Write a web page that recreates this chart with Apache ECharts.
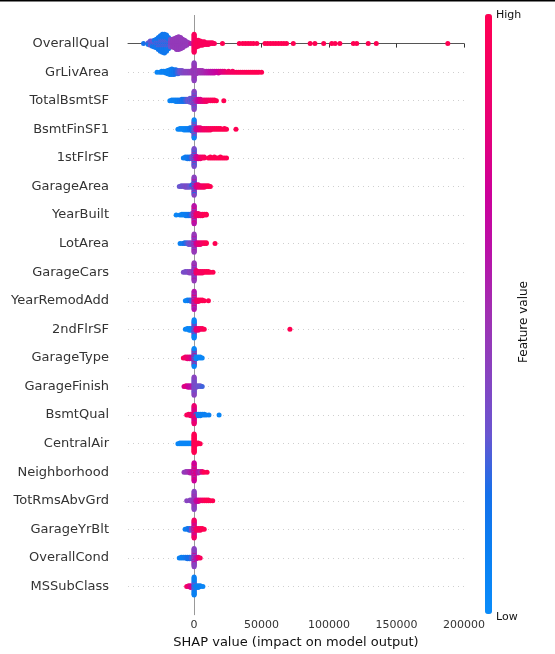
<!DOCTYPE html>
<html>
<head>
<meta charset="utf-8">
<script src="https://cdn.jsdelivr.net/npm/echarts@6/dist/echarts.min.js"></script>
<style>html,body{margin:0;padding:0;background:#fff}#c{width:555px;height:654px}</style>
</head>
<body>
<div id="c"></div>
<script>
// Feature names (top to bottom)
const features = ['OverallQual','GrLivArea','TotalBsmtSF','BsmtFinSF1','1stFlrSF','GarageArea','YearBuilt','LotArea','GarageCars','YearRemodAdd','2ndFlrSF','GarageType','GarageFinish','BsmtQual','CentralAir','Neighborhood','TotRmsAbvGrd','GarageYrBlt','OverallCond','MSSubClass'];
const xTicks = [0, 50000, 100000, 150000, 200000];
const colorLabels = ['High', 'Low'];

// Each entry: [SHAP value, normalized feature value (0 low .. 1 high), dots stacked at that value]
const overallQual = [[-37500,0.2,1],[-34000,0.3,2],[-34000,0.15,1],[-32500,0.3,4],[-32500,0.15,2],[-31000,0.3,4],[-31000,0.15,3],
 [-29500,0.3,4],[-29500,0.15,5],[-28000,0.15,7],[-28000,0.3,4],[-26500,0.15,10],[-26500,0.3,5],[-25000,0.15,13],[-25000,0.3,6],
 [-23500,0.15,16],[-23500,0.3,6],[-22000,0.15,17],[-22000,0.3,6],[-20500,0.15,14],[-20500,0.3,6],[-19000,0.15,9],[-19000,0.3,5],
 [-17500,0.3,6],[-17500,0.45,4],[-16000,0.45,10],[-14500,0.45,12],[-13000,0.45,15],[-11500,0.45,16],[-10000,0.45,14],
 [-8500,0.45,11],[-7000,0.45,8],[-5500,0.45,5],[-4000,0.45,2],[-2500,0.55,1],
 [0,0.95,16],[0,0.8,6],[1500,0.95,9],[3000,0.95,8],[4500,0.95,6],[6000,0.95,5],[7500,0.95,4],[9000,0.95,3],[10500,0.95,3],
 [12000,0.95,2],[13500,0.95,2],[15000,0.95,1],[21000,1,1],
 [33500,1,1],[36000,1,1],[38000,1,1],[40000,1,1],[42000,1,1],[44000,1,1],[46500,1,1],
 [52500,1,1],[54500,1,1],[56500,1,1],[58500,1,1],[60500,1,1],[62500,1,1],[64500,1,1],[66500,1,1],[68500,1,1],[73500,1,1],
 [86000,1,1],[89500,1,1],[96000,1,1],[102000,1,1],[104500,1,1],[108000,1,1],[118000,1,1],[120500,1,1],[129000,1,1],[135000,1,1],[188000,1,1]];
const grLivArea = [[-27500,0.05,1],[-25500,0.05,1],[-24000,0.08,2],[-22500,0.08,2],[-21000,0.1,3],[-19500,0.1,5],[-18000,0.1,7],
 [-16500,0.12,8],[-15000,0.15,7],[-13500,0.2,6],[-12000,0.25,5],[-10500,0.3,4],[-9000,0.35,4],[-7500,0.38,3],[-6000,0.4,3],
 [-4500,0.4,3],[-3000,0.42,3],[-1500,0.45,4],[0,0.42,14],[0,0.5,10],[1500,0.45,5],[3000,0.47,4],[4500,0.5,4],[6000,0.5,4],
 [7500,0.52,3],[9000,0.55,3],[10500,0.57,3],[12000,0.6,3],[13500,0.62,3],[15000,0.65,3],[16500,0.68,2],[18000,0.7,3],
 [19500,0.75,2],[21000,0.78,2],[22500,0.82,2],[24000,0.85,1],[25500,0.88,2],[27000,0.9,1],[28500,0.92,2],[30000,0.93,1],
 [31500,0.95,1],[33000,0.95,1],[34500,0.97,1],[36000,0.97,1],[37500,0.97,1],[39000,0.97,1],[40500,1,1],[42000,1,1],
 [43500,1,1],[45000,1,1],[46500,1,1],[48000,1,1],[50000,1,1]];
const totalBsmtSF = [[-18000,0.05,1],[-16500,0.08,2],[-15000,0.1,2],[-13500,0.1,3],[-12000,0.12,3],[-10500,0.15,3],[-9000,0.18,4],
 [-7500,0.2,4],[-6000,0.25,4],[-4500,0.3,4],[-3000,0.3,5],[-3000,0.15,1],[-1500,0.35,5],[-1500,0.2,2],
 [0,0.4,10],[0,0.25,8],[0,0.55,6],[1500,0.55,4],[3000,0.65,4],[4500,0.75,4],[6000,0.8,3],[7500,0.85,3],[9000,0.9,3],
 [10500,0.9,2],[12000,0.95,2],[13500,0.95,2],[15000,1,2],[16500,1,1],[22000,1,1]];
const bsmtFinSF1 = [[-12000,0.05,1],[-10500,0.05,2],[-9000,0.05,2],[-7500,0.05,3],[-6000,0.08,3],[-4500,0.1,3],[-3000,0.15,4],
 [-1500,0.2,5],[0,0.05,10],[0,0.35,8],[0,0.5,6],[1500,0.65,4],[3000,0.75,4],[4500,0.8,4],[6000,0.85,3],[7500,0.9,3],
 [9000,0.9,3],[10500,0.92,3],[12000,0.95,3],[13500,0.95,2],[15000,0.97,2],[16500,1,2],[18000,1,2],[19500,1,2],[21000,1,1],
 [22500,1,2],[24000,1,1],[31000,1,1]];
const firstFlrSF = [[-8000,0.1,1],[-6500,0.12,2],[-5000,0.15,3],[-3500,0.2,3],[-1500,0.3,4],[0,0.35,10],[0,0.2,8],[0,0.55,6],
 [1500,0.65,4],[3000,0.75,3],[4500,0.85,3],[6000,0.9,2],[7500,0.95,2],[10500,1,1],[12000,1,2],[13500,1,1],[15000,1,2],
 [16500,1,1],[18000,1,1],[19500,1,2],[21000,1,1],[22500,1,1],[24000,1,1]];
const garageArea = [[-11000,0.3,1],[-9500,0.3,2],[-8000,0.32,2],[-6500,0.35,3],[-5000,0.35,3],[-3500,0.3,3],[-1500,0.2,3],[-1500,0.4,1],
 [0,0.4,10],[0,0.2,7],[0,0.6,7],[1500,0.7,4],[3000,0.8,4],[4500,0.85,3],[6000,0.9,3],[7500,0.92,3],[9000,0.95,2],[10500,1,2],[12000,1,1]];
const yearBuilt = [[-13300,0.05,1],[-10500,0.08,1],[-9000,0.1,2],[-7500,0.1,2],[-6000,0.12,3],[-4500,0.15,3],[-3000,0.2,3],
 [-1500,0.3,4],[0,0.6,10],[0,0.8,8],[0,0.4,6],[1500,0.85,4],[3000,0.9,4],[4500,0.92,3],[6000,0.95,3],[7500,1,2],[9000,1,2]];
const lotArea = [[-10400,0.1,1],[-8500,0.15,1],[-7000,0.2,2],[-5500,0.25,2],[-4000,0.3,3],[-2500,0.35,3],[0,0.45,10],[0,0.6,8],[0,0.3,6],
 [1500,0.7,3],[3000,0.8,3],[4500,0.85,3],[6000,0.9,2],[7500,0.95,2],[9000,1,2],[15500,1,1]];
const garageCars = [[-8000,0.35,1],[-6500,0.35,2],[-5000,0.35,2],[-3500,0.4,3],[-2000,0.4,3],[0,0.45,10],[0,0.6,8],[0,0.3,6],
 [1500,0.85,4],[3000,0.9,3],[4500,0.9,3],[6000,0.95,3],[7500,0.95,2],[9000,1,2],[10500,1,2],[12000,1,1],[14000,1,1]];
const yearRemodAdd = [[-6500,0.05,1],[-5000,0.08,2],[-3500,0.15,2],[-2000,0.25,3],[0,0.6,10],[0,0.4,8],[0,0.8,6],
 [1500,0.85,3],[3000,0.9,3],[4500,0.95,2],[6000,1,2],[7500,1,1],[10600,1,1]];
const secondFlrSF = [[-6500,0.05,1],[-5000,0.05,2],[-3500,0.05,3],[-2000,0.05,3],[0,0.05,16],[0,0.6,8],[1500,0.8,3],[3000,0.85,3],
 [4500,0.9,2],[6000,0.95,2],[7500,1,1],[71000,1,1]];
const garageType = [[-8000,0.95,1],[-6500,0.9,2],[-5000,0.85,3],[-3500,0.8,3],[-2000,0.75,3],[0,0.05,14],[0,0.75,10],
 [1500,0.05,3],[3000,0.05,2],[4500,0.05,2],[6000,0.05,1]];
const garageFinish = [[-7500,0.75,1],[-6000,0.8,2],[-4500,0.7,3],[-3000,0.65,3],[-1500,0.6,3],[0,0.4,14],[0,0.3,10],
 [1500,0.35,3],[3000,0.3,2],[4500,0.3,2],[6000,0.25,1]];
const bsmtQual = [[-5500,0.95,1],[-4000,0.95,2],[-2500,0.9,3],[0,0.85,14],[0,0.7,10],[1500,0.2,2],[1500,0.9,1],[3000,0.1,3],
 [4500,0.1,3],[6000,0.1,2],[7500,0.1,2],[9000,0.1,1],[11000,0.1,1],[18500,0.05,1]];
const centralAir = [[-12000,0.05,1],[-10500,0.05,2],[-9000,0.05,2],[-7500,0.05,2],[-6000,0.05,2],[-4500,0.05,2],[-3000,0.05,2],
 [-1500,0.05,2],[0,1,28],[1500,1,3],[3000,1,2],[4500,1,1]];
const neighborhood = [[-7500,0.45,1],[-6000,0.45,2],[-4500,0.5,2],[-3000,0.55,3],[-1500,0.6,3],[0,0.7,10],[0,0.85,8],[0,0.5,6],
 [1500,0.75,3],[3000,0.6,3],[4500,0.5,2],[6000,0.85,2],[7500,1,1],[9600,1,1]];
const totRmsAbvGrd = [[-5500,0.4,1],[-3000,0.4,2],[-1500,0.4,3],[0,0.4,14],[0,0.5,10],[1500,0.65,3],[3000,0.7,3],[4500,0.8,2],
 [6000,0.9,2],[7500,0.95,2],[9000,1,2],[10500,1,2],[12000,1,1],[13800,1,1]];
const garageYrBlt = [[-6700,0.1,1],[-5000,0.15,2],[-3500,0.2,3],[-2000,0.35,3],[0,0.9,12],[0,0.65,8],[0,0.45,4],
 [1500,0.9,3],[3000,0.95,3],[4500,0.95,3],[6000,1,2],[7500,1,1]];
const overallCond = [[-11000,0.1,1],[-9500,0.1,2],[-8000,0.12,2],[-6500,0.15,2],[-5000,0.2,3],[-3500,0.2,3],[-2000,0.25,3],
 [0,0.4,14],[0,0.7,6],[0,0.3,4],[1500,0.6,3],[3000,0.8,2],[4500,0.95,1]];
const msSubClass = [[-5500,0.9,1],[-4000,0.85,2],[-2500,0.75,3],[0,0.1,16],[0,0.3,6],[1500,0.1,3],[3000,0.1,3],[4500,0.1,2],[6500,0.05,1]];

const rows = [overallQual, grLivArea, totalBsmtSF, bsmtFinSF1, firstFlrSF, garageArea, yearBuilt, lotArea, garageCars, yearRemodAdd,
  secondFlrSF, garageType, garageFinish, bsmtQual, centralAir, neighborhood, totRmsAbvGrd, garageYrBlt, overallCond, msSubClass];

// beeswarm layout: stack dots sharing a value bin, alternating above/below the row
const BIN = 1500;
function swarm(entries, row) {
  const bins = new Map();
  entries.forEach(e => {
    const k = Math.round(e[0] / BIN);
    if (!bins.has(k)) bins.set(k, []);
    bins.get(k).push(e);
  });
  const cols = [];
  let maxHalf = 0;
  bins.forEach(list => {
    const rem = list.map(e => e[2]);
    const pts = [];
    let any = true;
    while (any) {
      any = false;
      list.forEach((e, i) => {
        for (let j = 0; j < 2 && rem[i] > 0; j++) { pts.push(e); rem[i]--; any = true; }
      });
    }
    cols.push(pts);
    maxHalf = Math.max(maxHalf, Math.ceil((pts.length - 1) / 2));
  });
  const unit = 0.9 * 0.4 / (maxHalf + 1);
  const out = [];
  cols.forEach(pts => {
    pts.forEach((e, k) => {
      const layer = Math.ceil(k / 2) * (k % 2 ? -1 : 1);
      out.push([e[0], row + layer * unit, e[1]]);
    });
  });
  return out;
}
const points = [];
rows.forEach((r, i) => swarm(r, i).forEach(p => points.push(p)));

const FONT = 'DejaVu Sans';
const chart = echarts.init(document.getElementById('c'), null, {renderer: 'canvas'});
chart.setOption({
  animation: false,
  backgroundColor: '#fff',
  grid: {left: 128, right: 91, top: 15, bottom: 38, containLabel: false},
  xAxis: {
    type: 'value', min: -49000, max: 200000,
    axisLine: {show: true, lineStyle: {color: '#555', width: 1}},
    axisTick: {show: true, length: 4, lineStyle: {color: '#333'}, customValues: xTicks},
    axisLabel: {fontSize: 11, color: '#333', fontFamily: FONT, margin: 5, customValues: xTicks, formatter: v => String(v)},
    splitLine: {show: false},
    name: 'SHAP value (impact on model output)', nameLocation: 'middle', nameGap: 19,
    nameTextStyle: {fontSize: 13, color: '#111', fontFamily: FONT}
  },
  yAxis: {
    type: 'value', min: -1, max: 20, interval: 1, inverse: true,
    axisLine: {show: false}, axisTick: {show: false},
    axisLabel: {fontSize: 13, color: '#333', fontFamily: FONT, margin: 19, showMinLabel: false, showMaxLabel: false,
      formatter: v => features[v] || ''},
    splitLine: {show: true, showMinLine: false, showMaxLine: false, lineStyle: {color: '#cfcfcf', width: 1, type: [1, 4]}}
  },
  visualMap: {
    type: 'continuous', min: 0, max: 1, dimension: 2, seriesIndex: 0, calculable: false, show: true,
    orient: 'vertical', left: 485, top: 14, itemWidth: 7, itemHeight: 600, padding: 0, text: null, hoverLink: false,
    inRange: {color: ['#0a8cfa','#0a80f2','#1570ea','#6a55d0','#8843c0','#a030b2','#b812a8','#cc009a','#e4007a','#f40064','#ff0052']}
  },
  series: [
    {type: 'scatter', data: points, symbolSize: 5, z: 3, silent: true, itemStyle: {opacity: 1}},
    {type: 'scatter', data: [], z: 1, silent: true,
     markLine: {silent: true, z: 1, symbol: 'none', label: {show: false},
       lineStyle: {color: '#999', width: 1, type: 'solid'}, data: [{xAxis: 0}]}}
  ],
  graphic: [
    {type: 'rect', shape: {x: 0, y: 0, width: 555, height: 1.5}, style: {fill: '#000'}},
    {type: 'text', x: 496, y: 15, style: {text: colorLabels[0], fontSize: 11, fontFamily: FONT, fill: '#111', textVerticalAlign: 'middle'}},
    {type: 'text', x: 496, y: 617, style: {text: colorLabels[1], fontSize: 11, fontFamily: FONT, fill: '#111', textVerticalAlign: 'middle'}},
    {type: 'text', x: 524, y: 322, rotation: Math.PI / 2, style: {text: 'Feature value', fontSize: 12, fontFamily: FONT, fill: '#111', textAlign: 'center', textVerticalAlign: 'middle'}}
  ]
});
</script>
</body>
</html>
